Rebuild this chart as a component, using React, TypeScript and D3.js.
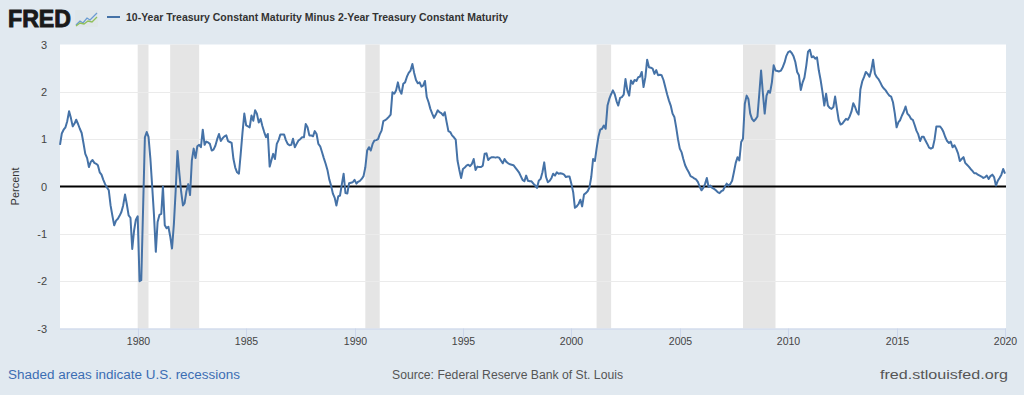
import React from "react";
import * as d3 from "d3";

// ---- Data (monthly, percent) ----
const seriesStart = "1976-06-01";

const spread1976to1979 = [
  0.88, 1.12, 1.2, 1.25, 1.38, 1.59, 1.45,
  1.27, 1.33, 1.41, 1.32, 1.22, 1.13, 0.92, 0.69, 0.6, 0.41, 0.52, 0.56,
  0.5, 0.48, 0.45, 0.3, 0.25, 0.14, 0.05, -0.02, -0.08, -0.4, -0.62, -0.82,
  -0.72, -0.68, -0.62, -0.54, -0.4, -0.17, -0.37, -0.61, -0.66, -1.32, -0.93, -0.7,
];

const spread1980s = [
  -0.63, -2.0, -1.98, -0.45, 1.04, 1.15, 1.05, 0.6, 0.0, -0.6, -1.38, -0.75,
  -0.6, -0.58, 0.0, -0.82, -0.88, -0.85, -1.05, -1.31, -0.8, -0.1, 0.75, 0.3,
  -0.1, -0.4, -0.35, -0.1, 0.05, -0.18, 0.55, 0.8, 0.6, 0.85, 0.88, 0.83,
  1.2, 0.88, 0.95, 0.93, 0.9, 0.76, 0.78, 0.86, 1.0, 1.11, 0.96, 1.02,
  1.06, 1.08, 0.96, 0.94, 0.92, 0.58, 0.4, 0.3, 0.27, 0.69, 1.15, 1.54,
  1.29, 1.27, 1.25, 1.5, 1.39, 1.61, 1.54, 1.35, 1.43, 1.28, 1.15, 1.04,
  1.11, 0.42, 0.55, 0.69, 0.58, 0.9, 0.98, 1.1, 1.1, 1.1, 0.98, 0.9,
  0.87, 0.88, 1.01, 0.83, 0.9, 0.97, 1.0, 1.04, 1.04, 1.32, 1.25, 1.08,
  1.08, 1.06, 1.17, 1.11, 0.9, 0.85, 0.73, 0.6, 0.48, 0.35, 0.15, 0.02,
  -0.15, -0.24, -0.4, -0.21, -0.19, 0.05, 0.27, -0.14, -0.15, 0.07, 0.08, 0.09,
];

const spread1990s = [
  0.14, 0.06, 0.1, 0.12, 0.16, 0.22, 0.4, 0.76, 0.83, 0.76, 0.9, 0.97,
  0.98, 1.0, 1.1, 1.18, 1.38, 1.4, 1.43, 1.47, 1.52, 1.99, 1.96, 2.03,
  2.2, 2.03, 1.96, 2.17, 2.2, 2.32, 2.4, 2.45, 2.59, 2.4, 2.25, 2.18,
  2.2, 2.11, 2.13, 2.23, 1.89, 1.78, 1.64, 1.54, 1.45, 1.52, 1.61, 1.57,
  1.55, 1.5, 1.57, 1.36, 1.17, 1.15, 1.08, 1.04, 0.99, 0.55, 0.35, 0.18,
  0.37, 0.4, 0.44, 0.46, 0.43, 0.48, 0.58, 0.35, 0.42, 0.41, 0.41, 0.44,
  0.69, 0.7, 0.56, 0.6, 0.62, 0.62, 0.61, 0.62, 0.61, 0.55, 0.49, 0.58,
  0.52, 0.49, 0.47, 0.46, 0.45, 0.4, 0.35, 0.3, 0.22, 0.14, 0.11, 0.23,
  0.12, 0.11, 0.11, 0.06, 0.02, -0.03, 0.12, 0.16, 0.3, 0.51, 0.2, 0.09,
  0.12, 0.18, 0.27, 0.23, 0.3, 0.27, 0.28, 0.27, 0.25, 0.2, 0.21, 0.21,
];

const spread2000s = [
  0.06, -0.12, -0.45, -0.42, -0.37, -0.28, -0.42, -0.17, -0.14, -0.1, -0.02, 0.2,
  0.58, 0.54, 0.8, 1.05, 1.2, 1.22, 1.29, 1.22, 1.71, 1.85, 1.95, 2.03,
  1.95, 1.8, 1.71, 1.87, 1.89, 1.94, 2.27, 2.03, 1.92, 2.24, 2.17, 2.25,
  2.23, 2.31, 2.32, 2.42, 2.1, 2.31, 2.68, 2.52, 2.51, 2.49, 2.38, 2.46,
  2.35, 2.36, 2.35, 2.25, 2.1, 1.95, 1.82, 1.71, 1.54, 1.47, 1.25, 1.0,
  0.8, 0.72, 0.58, 0.45, 0.37, 0.3, 0.22, 0.2, 0.17, 0.15, 0.1, 0.0,
  -0.08, -0.03, 0.05, 0.18, -0.01, 0.02, -0.03, -0.05, -0.08, -0.12, -0.14, -0.1,
  -0.08, 0.0, 0.06, 0.02, 0.05, 0.12, 0.3, 0.5, 0.62, 0.55, 0.94, 1.01,
  1.75, 1.92, 1.85, 1.54, 1.43, 1.38, 1.42, 1.48, 1.96, 2.45, 1.96, 1.54,
  1.92, 2.02, 1.98, 2.2, 2.56, 2.45, 2.44, 2.43, 2.45, 2.52, 2.62, 2.76,
];

const spread2010s = [
  2.84, 2.86, 2.82, 2.75, 2.63, 2.42, 2.35, 2.04, 2.2, 2.3, 2.55, 2.85,
  2.89, 2.73, 2.75, 2.7, 2.73, 2.45, 2.25, 2.0, 1.71, 1.96, 1.71, 1.66,
  1.64, 1.68, 1.9, 1.64, 1.4, 1.31, 1.33, 1.38, 1.43, 1.41, 1.48, 1.58,
  1.76, 1.68, 1.58, 1.52, 2.05, 2.22, 2.31, 2.42, 2.38, 2.32, 2.46, 2.68,
  2.38, 2.31, 2.27, 2.2, 2.12, 2.07, 2.03, 1.97, 1.92, 1.9, 1.78, 1.55,
  1.25, 1.36, 1.4, 1.5, 1.58, 1.69, 1.54, 1.5, 1.43, 1.41, 1.3, 1.18,
  1.1, 0.96, 1.05, 1.05, 0.97, 0.9, 0.82, 0.8, 0.82, 0.99, 1.27, 1.27,
  1.27, 1.22, 1.15, 1.04, 0.96, 0.92, 0.95, 0.83, 0.87, 0.8, 0.7, 0.54,
  0.58, 0.62, 0.5, 0.46, 0.42, 0.37, 0.33, 0.28, 0.28, 0.25, 0.23, 0.21,
  0.18, 0.2, 0.23, 0.16, 0.22, 0.25, 0.2, 0.02, 0.12, 0.18, 0.25, 0.37,
];

const spread2020 = [0.27];

const recessions: [string, string][] = [
  ["1980-01-01", "1980-07-01"],
  ["1981-07-01", "1982-11-01"],
  ["1990-07-01", "1991-03-01"],
  ["2001-03-01", "2001-11-01"],
  ["2007-12-01", "2009-06-01"],
];

const yTicks = [-3, -2, -1, 0, 1, 2, 3];
const xTickYears = [1980, 1985, 1990, 1995, 2000, 2005, 2010, 2015, 2020];

const seriesTitle =
  "10-Year Treasury Constant Maturity Minus 2-Year Treasury Constant Maturity";

// ---- Layout ----
const W = 1024;
const H = 395;
const plot = { left: 60, right: 1006, top: 44.5, bottom: 328.5 };
const FONT = "'Liberation Sans', Arial, Helvetica, sans-serif";

export default function App() {
  const values = [
    ...spread1976to1979,
    ...spread1980s,
    ...spread1990s,
    ...spread2000s,
    ...spread2010s,
    ...spread2020,
  ];
  const start = new Date(seriesStart + "T00:00:00");
  const data = values.map((v, i) => ({ date: d3.timeMonth.offset(start, i), v }));
  const lastDate = data[data.length - 1].date;

  const x = d3.scaleTime().domain([start, lastDate]).range([plot.left, 1005]);
  const y = d3.scaleLinear().domain([-3, 3]).range([plot.bottom, plot.top]);

  const line = d3
    .line<{ date: Date; v: number }>()
    .x((d) => x(d.date))
    .y((d) => y(d.v))
    .curve(d3.curveLinear);

  const pd = (s: string) => new Date(s + "T00:00:00");

  return (
    <svg
      width={W}
      height={H}
      style={{ position: "absolute", left: 0, top: 0, display: "block" }}
      fontFamily={FONT}
    >
      <rect x={0} y={0} width={W} height={H} fill="#e1e9f0" />

      {/* header: FRED logo */}
      <text
        x={8}
        y={27}
        fontSize={23}
        fontWeight={900}
        fill="#1a1a1a"
        stroke="#1a1a1a"
        strokeWidth={0.9}
        textLength={63}
        lengthAdjust="spacingAndGlyphs"
      >
        FRED
      </text>
      <g transform="translate(75,10)">
        <rect x={0} y={0} width={23} height={17} fill="#dfe6ea" rx={1} />
        <polyline points="1,15 5,11 8,13 12,8 15,10 22,3" fill="none" stroke="#6a9bd1" strokeWidth={1.3} />
        <polyline points="1,16 5,13 9,14 13,11 17,12 22,7" fill="none" stroke="#8fbf5a" strokeWidth={1.3} />
      </g>
      <line x1={107} x2={120} y1={17} y2={17} stroke="#4572a7" strokeWidth={2} />
      <text x={126} y={21} fontSize={11} fontWeight={700} fill="#333" textLength={382} lengthAdjust="spacingAndGlyphs">
        {seriesTitle}
      </text>

      {/* plot area */}
      <rect
        x={plot.left}
        y={plot.top}
        width={plot.right - plot.left}
        height={plot.bottom - plot.top}
        fill="#ffffff"
      />

      {recessions.map(([s, e]) => (
        <rect
          key={s}
          x={x(pd(s))}
          y={plot.top}
          width={x(pd(e)) - x(pd(s))}
          height={plot.bottom - plot.top}
          fill="#e5e5e5"
        />
      ))}

      {yTicks
        .filter((t) => t !== 0 && t !== 3 && t !== -3)
        .map((t) => (
          <line
            key={t}
            x1={plot.left}
            x2={plot.right}
            y1={Math.round(y(t)) + 0.5}
            y2={Math.round(y(t)) + 0.5}
            stroke="#ebebeb"
            strokeWidth={1}
          />
        ))}

      {/* x axis */}
      <line x1={plot.left} x2={plot.right} y1={plot.bottom + 0.5} y2={plot.bottom + 0.5} stroke="#ccd6eb" strokeWidth={1} />
      {xTickYears.map((yr) => {
        const xx = Math.round(x(new Date(yr, 0, 1))) + 0.5;
        return (
          <g key={yr}>
            <line x1={xx} x2={xx} y1={plot.bottom} y2={plot.bottom + 10} stroke="#ccd6eb" strokeWidth={1} />
            <text x={xx} y={345} fontSize={10.5} fill="#444" textAnchor="middle">
              {yr}
            </text>
          </g>
        );
      })}

      {/* y axis labels */}
      {yTicks.map((t) => (
        <text key={t} x={47} y={y(t) + 4} fontSize={11} fill="#444" textAnchor="end">
          {t}
        </text>
      ))}
      <text transform={`translate(19,${y(0)}) rotate(-90)`} fontSize={11} fill="#333" textAnchor="middle">
        Percent
      </text>

      {/* zero line */}
      <line x1={plot.left} x2={plot.right} y1={y(0)} y2={y(0)} stroke="#000" strokeWidth={2} />

      {/* series */}
      <path d={line(data) || ""} fill="none" stroke="#4572a7" strokeWidth={2} strokeLinejoin="round" />

      {/* footer */}
      <text x={8} y={379} fontSize={12} fill="#3b6db3" textLength={232} lengthAdjust="spacingAndGlyphs">
        Shaded areas indicate U.S. recessions
      </text>
      <text x={392} y={379} fontSize={12} fill="#555" textLength={231} lengthAdjust="spacingAndGlyphs">
        Source: Federal Reserve Bank of St. Louis
      </text>
      <text x={880} y={379} fontSize={12} fill="#555" textLength={128} lengthAdjust="spacingAndGlyphs">
        fred.stlouisfed.org
      </text>
    </svg>
  );
}
